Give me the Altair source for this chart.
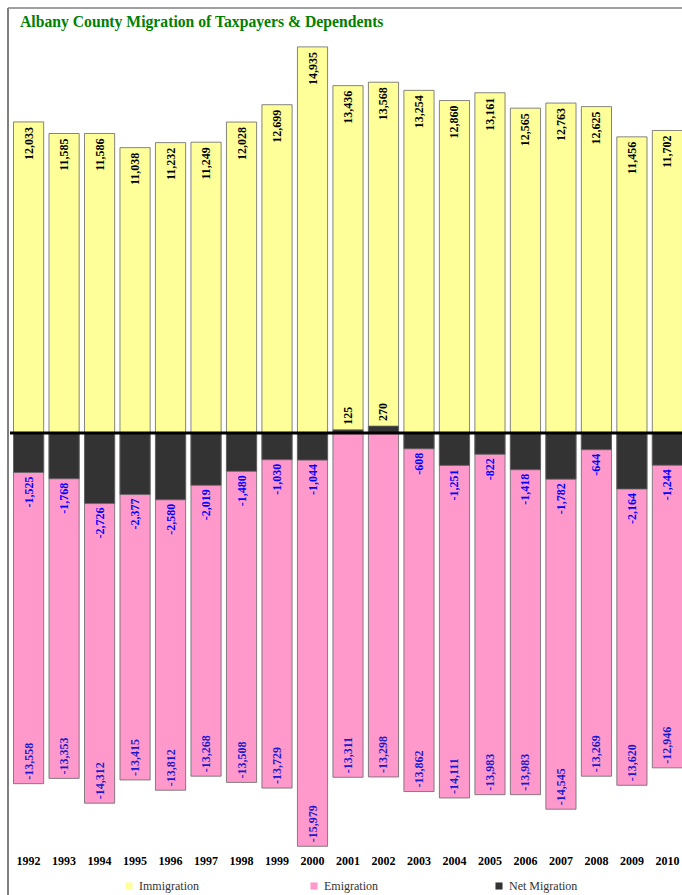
import altair as alt
import pandas as pd

years = [str(y) for y in range(1992, 2011)]
immigration = [12033, 11585, 11586, 11038, 11232, 11249, 12028, 12699, 14935, 13436,
               13568, 13254, 12860, 13161, 12565, 12763, 12625, 11456, 11702]
emigration = [-13558, -13353, -14312, -13415, -13812, -13268, -13508, -13729, -15979, -13311,
              -13298, -13862, -14111, -13983, -13983, -14545, -13269, -13620, -12946]
net_migration = [-1525, -1768, -2726, -2377, -2580, -2019, -1480, -1030, -1044, 125,
                 270, -608, -1251, -822, -1418, -1782, -644, -2164, -1244]

series_names = ["Immigration", "Emigration", "Net Migration"]
series_colors = ["#FFFF99", "#FF99CC", "#333333"]
title_text = "Albany County Migration of Taxpayers & Dependents"

rows = []
for k, (s, vals) in enumerate(zip(series_names, [immigration, emigration, net_migration])):
    for yr, v in zip(years, vals):
        rows.append({"year": yr, "series": s, "value": v, "label": f"{v:,}", "ord": k})
df = pd.DataFrame(rows)

FONT = "Liberation Serif"

x = alt.X("year:N", sort=years,
          axis=alt.Axis(title=None, labelAngle=0, labelFont=FONT, labelFontWeight="bold",
                        labelFontSize=12, labelColor="black", ticks=False, domain=False,
                        labelPadding=3),
          scale=alt.Scale(paddingInner=0.15, paddingOuter=0.127, range=[0, 678]))
y = alt.Y("value:Q", stack=None, axis=None,
          scale=alt.Scale(domain=[-16200, 16400], nice=False, zero=False))

bars = alt.Chart(df).mark_bar(stroke="#666666", strokeWidth=0.8).encode(
    x=x, y=y,
    color=alt.Color("series:N",
                    scale=alt.Scale(domain=series_names, range=series_colors),
                    legend=alt.Legend(title=None, orient="none", legendX=114, legendY=871,
                                      direction="horizontal", symbolType="square",
                                      symbolSize=50, symbolStrokeWidth=0,
                                      labelFont=FONT, labelFontSize=12, labelColor="#333333",
                                      columnPadding=100, gridAlign="all", padding=0)),
    order=alt.Order("ord:Q"),
)

base = alt.Chart(df).encode(x=x, y=y, text="label:N")
txt_kw = dict(angle=270, baseline="middle", font=FONT, fontWeight="bold", fontSize=12)

imm_txt = base.transform_filter(alt.datum.series == "Immigration").mark_text(
    align="right", dx=-5, color="black", **txt_kw)
emi_txt = base.transform_filter(alt.datum.series == "Emigration").mark_text(
    align="left", dx=4, color="#1a1acc", **txt_kw)
net_neg = base.transform_filter(
    (alt.datum.series == "Net Migration") & (alt.datum.value < 0)).mark_text(
    align="right", dx=-4, color="#0000ff", **txt_kw)
net_pos = base.transform_filter(
    (alt.datum.series == "Net Migration") & (alt.datum.value > 0)).mark_text(
    align="left", dx=5, color="black", **txt_kw)

zero = alt.Chart(pd.DataFrame({"z": [0]})).mark_rule(color="black", strokeWidth=3).encode(
    y=alt.Y("z:Q"), x=alt.value(1), x2=alt.value(690))

one = pd.DataFrame({"a": [0]})
border_left = alt.Chart(one).mark_rule(color="#808080", strokeWidth=2).encode(
    x=alt.value(-1), y=alt.value(-1), y2=alt.value(900))
border_top = alt.Chart(one).mark_rule(color="#808080", strokeWidth=1.5).encode(
    x=alt.value(-1), x2=alt.value(700), y=alt.value(-1))

title_mark = alt.Chart(one).mark_text(
    align="left", baseline="alphabetic", font=FONT, fontSize=15.7, fontWeight="bold",
    color="#008000").encode(x=alt.value(11), y=alt.value(18), text=alt.value(title_text))

chart = alt.layer(bars, imm_txt, emi_txt, net_neg, net_pos, zero,
                  border_left, border_top, title_mark).properties(
    width=673, height=843,
    padding={"left": 9, "top": 9, "right": 0, "bottom": 43},
    autosize="none",
).configure_view(stroke=None)

chart.save("out.html", embed_options={"renderer": "svg", "actions": False})
